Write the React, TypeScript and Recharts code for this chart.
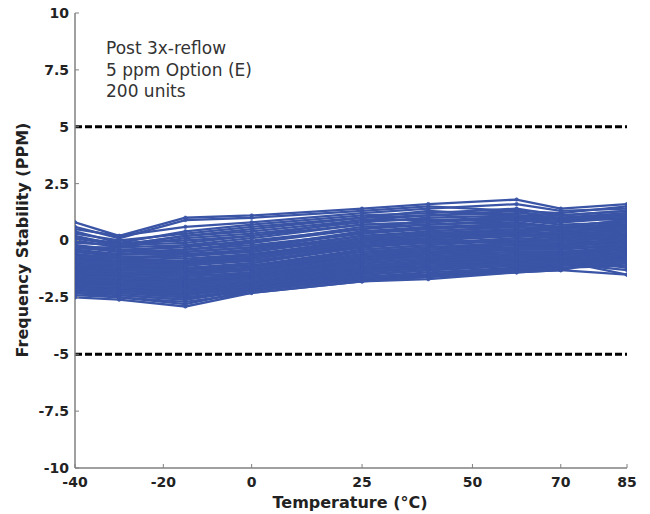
import React from "react";
import { LineChart, Line, XAxis, YAxis, ReferenceLine } from "recharts";

// Temperature sweep points (deg C) where each unit was measured
const temperatures = [-40, -30, -15, 0, 25, 40, 60, 70, 85];
const xTicks = [-40, -20, 0, 25, 50, 70, 85];
const yTicks = [-10, -7.5, -5, -2.5, 0, 2.5, 5, 7.5, 10];
const limitLines = [5, -5];
const noteLines = ["Post 3x-reflow", "5 ppm Option (E)", "200 units"];

// Frequency stability (PPM) per unit, one value per temperature point
const unitCurves: number[][] = [
    [0.8, 0.2, 1.0, 1.1, 1.4, 1.6, 1.8, 1.4, 1.6],
    [0.6, 0.1, 0.9, 1.0, 1.3, 1.5, 1.3, 1.2, 1.5],
    [0.5, 0.2, 0.6, 0.8, 1.2, 1.4, 1.6, 1.3, 1.4],
    [0.4, -0.1, 0.4, 0.7, 1.1, 1.2, 1.4, 1.1, 1.3],
    [0.3, 0.0, 0.3, 0.6, 1.0, 1.3, 1.1, 1.0, 1.2],
    [0.2, -0.2, 0.2, 0.4, 0.9, 1.1, 1.3, 0.9, 1.1],
    [0.1, -0.1, 0.0, 0.2, 0.9, 0.9, 1.0, 0.9, 1.1],
    [0.1, -0.2, 0.2, 0.5, 1.0, 1.1, 1.2, 1.1, 1.3],
    [0.0, -0.3, 0.1, 0.3, 0.8, 1.0, 1.1, 1.0, 0.9],
    [-0.1, -0.2, -0.1, 0.2, 0.7, 0.8, 1.0, 0.8, 1.0],
    [-0.2, -0.4, -0.3, 0.0, 0.5, 0.9, 0.9, 0.7, 0.8],
    [-0.2, -0.5, -0.4, -0.1, 0.5, 0.7, 0.9, 0.8, 1.1],
    [-0.3, -0.5, -0.2, -0.1, 0.6, 0.7, 0.8, 0.6, 0.9],
    [-0.3, -0.3, -0.2, 0.1, 0.7, 0.8, 1.1, 0.9, 1.2],
    [-0.35, -0.4, -0.5, -0.3, 0.4, 0.6, 0.7, 0.6, 0.7],
    [-0.4, -0.6, -0.4, -0.2, 0.3, 0.6, 0.6, 0.5, 0.8],
    [-0.45, -0.6, -0.5, -0.3, 0.3, 0.5, 0.8, 0.5, 0.6],
    [-0.5, -0.7, -0.7, -0.4, 0.2, 0.4, 0.6, 0.4, 0.5],
    [-0.5, -0.6, -0.6, -0.4, 0.4, 0.5, 0.7, 0.6, 0.9],
    [-0.6, -0.8, -0.6, -0.5, 0.2, 0.3, 0.5, 0.4, 0.6],
    [-0.6, -0.8, -0.9, -0.6, -0.1, 0.3, 0.5, 0.2, 0.5],
    [-0.65, -0.7, -0.8, -0.6, 0.0, 0.2, 0.4, 0.3, 0.4],
    [-0.7, -0.9, -0.9, -0.7, 0.1, 0.2, 0.3, 0.2, 0.3],
    [-0.7, -0.8, -0.7, -0.5, 0.1, 0.4, 0.6, 0.5, 0.7],
    [-0.8, -0.9, -1.0, -0.8, -0.1, 0.1, 0.3, 0.1, 0.2],
    [-0.8, -1.0, -1.0, -0.7, 0.0, 0.3, 0.4, 0.3, 0.7],
    [-0.85, -1.0, -1.1, -0.8, -0.2, 0.0, 0.2, 0.1, 0.3],
    [-0.9, -1.1, -1.0, -0.9, -0.3, -0.1, 0.1, 0.0, 0.1],
    [-0.9, -1.0, -0.9, -0.7, -0.1, 0.2, 0.4, 0.3, 0.6],
    [-1.0, -1.1, -1.2, -1.0, -0.2, -0.1, 0.0, 0.0, 0.2],
    [-1.0, -1.2, -1.1, -0.9, -0.3, 0.0, -0.1, 0.1, 0.3],
    [-1.0, -1.0, -1.1, -0.8, -0.2, 0.1, 0.3, 0.2, 0.5],
    [-1.05, -1.2, -1.3, -1.1, -0.4, -0.2, 0.0, -0.1, 0.0],
    [-1.1, -1.3, -1.2, -1.1, -0.5, -0.3, -0.1, -0.2, 0.1],
    [-1.1, -1.2, -1.3, -1.0, -0.3, 0.1, 0.2, 0.2, 0.4],
    [-1.15, -1.3, -1.4, -1.2, -0.5, -0.3, -0.2, -0.2, -0.1],
    [-1.2, -1.4, -1.4, -1.3, -0.6, -0.4, -0.2, -0.3, 0.0],
    [-1.2, -1.3, -1.3, -1.2, -0.4, -0.2, 0.1, 0.0, 0.3],
    [-1.25, -1.4, -1.5, -1.3, -0.7, -0.5, -0.3, -0.3, -0.2],
    [-1.3, -1.5, -1.6, -1.4, -0.7, -0.5, -0.4, -0.4, -0.2],
    [-1.3, -1.4, -1.5, -1.2, -0.6, -0.3, -0.1, -0.1, 0.2],
    [-1.35, -1.5, -1.5, -1.5, -0.8, -0.6, -0.4, -0.3, -0.3],
    [-1.4, -1.6, -1.7, -1.5, -0.9, -0.7, -0.5, -0.5, -0.3],
    [-1.4, -1.5, -1.6, -1.4, -0.7, -0.4, -0.3, -0.2, 0.0],
    [-1.45, -1.6, -1.7, -1.6, -0.9, -0.6, -0.5, -0.5, -0.4],
    [-1.5, -1.7, -1.8, -1.6, -1.0, -0.8, -0.6, -0.6, -0.4],
    [-1.5, -1.6, -1.7, -1.5, -0.8, -0.5, -0.4, -0.4, -0.1],
    [-1.55, -1.7, -1.9, -1.7, -1.0, -0.8, -0.7, -0.6, -0.5],
    [-1.6, -1.7, -1.9, -1.6, -0.9, -0.7, -0.6, -0.5, -0.3],
    [-1.6, -1.8, -1.8, -1.7, -1.1, -0.9, -0.7, -0.7, -0.5],
    [-1.6, -1.6, -1.8, -1.5, -0.8, -0.6, -0.3, -0.3, 0.1],
    [-1.65, -1.8, -2.0, -1.8, -1.2, -0.9, -0.8, -0.7, -0.6],
    [-1.7, -1.9, -2.0, -1.8, -1.2, -1.0, -0.8, -0.8, -0.6],
    [-1.7, -1.8, -1.9, -1.7, -1.0, -0.8, -0.6, -0.6, -0.3],
    [-1.75, -1.9, -2.1, -1.9, -1.3, -1.0, -0.9, -0.8, -0.7],
    [-1.8, -2.0, -2.1, -1.9, -1.3, -1.1, -0.9, -0.9, -0.7],
    [-1.8, -1.9, -2.0, -1.8, -1.1, -0.9, -0.8, -0.7, -0.5],
    [-1.85, -2.0, -2.2, -2.0, -1.4, -1.2, -1.0, -0.9, -0.8],
    [-1.9, -2.1, -2.2, -2.0, -1.4, -1.2, -1.0, -1.0, -0.8],
    [-1.9, -2.0, -2.1, -1.9, -1.2, -1.0, -0.9, -0.8, -0.6],
    [-1.95, -2.1, -2.3, -2.0, -1.5, -1.3, -1.1, -1.0, -0.9],
    [-2.0, -2.2, -2.3, -2.1, -1.5, -1.3, -1.1, -1.1, -0.9],
    [-2.0, -2.1, -2.4, -2.0, -1.4, -1.1, -1.0, -0.8, -1.2],
    [-2.0, -2.0, -2.2, -1.9, -1.2, -0.9, -0.7, -0.6, -0.2],
    [-2.05, -2.2, -2.4, -2.1, -1.6, -1.4, -1.2, -1.1, -1.0],
    [-2.1, -2.3, -2.5, -2.2, -1.6, -1.5, -1.2, -1.2, -1.0],
    [-2.1, -2.2, -2.3, -2.0, -1.3, -1.2, -1.0, -0.9, -0.7],
    [-2.2, -2.3, -2.5, -2.2, -1.7, -1.5, -1.3, -1.2, -1.1],
    [-2.2, -2.3, -2.4, -2.1, -1.5, -1.3, -1.1, -1.0, -0.8],
    [-2.2, -2.4, -2.6, -2.1, -1.6, -1.5, -1.2, -1.0, -1.3],
    [-2.3, -2.4, -2.6, -2.2, -1.7, -1.6, -1.3, -1.3, -0.6],
    [-2.3, -2.5, -2.8, -2.2, -1.7, -1.6, -1.3, -0.9, -1.5],
    [-2.4, -2.5, -2.7, -2.3, -1.8, -1.6, -1.4, -1.3, -0.8],
    [-2.5, -2.6, -2.9, -2.3, -1.8, -1.7, -1.4, -1.3, -1.5],
];

const LINE_COLOR = "#3a54a6";
const AXIS_COLOR = "#808080";
const FONT = "DejaVu Sans, sans-serif";

const data = temperatures.map((t, i) => {
    const row: Record<string, number> = { t };
    unitCurves.forEach((curve, k) => {
        row[`u${k}`] = curve[i];
    });
    return row;
});

const tickStyle = { fontFamily: FONT, fontWeight: 700, fontSize: 14, fill: "#222" };

export default function App() {
    return (
        <div style={{ position: "absolute", left: 0, top: 0, width: 650, height: 514, background: "#fff" }}>
            <LineChart
                width={650}
                height={514}
                data={data}
                margin={{ top: 13, right: 23, bottom: 0, left: 0 }}
            >
                <XAxis
                    dataKey="t"
                    type="number"
                    domain={[-40, 85]}
                    ticks={xTicks}
                    allowDataOverflow
                    height={46}
                    tickSize={-4}
                    tickMargin={13}
                    tick={tickStyle}
                    axisLine={{ stroke: AXIS_COLOR, strokeWidth: 1.5 }}
                    tickLine={{ stroke: AXIS_COLOR }}
                />
                <XAxis
                    xAxisId="top"
                    orientation="top"
                    type="number"
                    domain={[-40, 85]}
                    ticks={xTicks}
                    allowDataOverflow
                    height={0}
                    tickSize={-4}
                    tick={false}
                    axisLine={{ stroke: AXIS_COLOR, strokeWidth: 1.5 }}
                    tickLine={{ stroke: AXIS_COLOR }}
                />
                <YAxis
                    type="number"
                    domain={[-10, 10]}
                    ticks={yTicks}
                    allowDataOverflow
                    width={75}
                    tickSize={-4}
                    tickMargin={10}
                    tick={tickStyle}
                    axisLine={{ stroke: AXIS_COLOR, strokeWidth: 1.5 }}
                    tickLine={{ stroke: AXIS_COLOR }}
                />
                <YAxis
                    yAxisId="right"
                    orientation="right"
                    type="number"
                    domain={[-10, 10]}
                    ticks={yTicks}
                    allowDataOverflow
                    width={0}
                    tickSize={-4}
                    tick={false}
                    axisLine={{ stroke: AXIS_COLOR, strokeWidth: 1.5 }}
                    tickLine={{ stroke: AXIS_COLOR }}
                />
                {unitCurves.map((_, k) => (
                    <Line
                        key={k}
                        dataKey={`u${k}`}
                        stroke={LINE_COLOR}
                        strokeWidth={2.3}
                        dot={{ r: 1.8, fill: LINE_COLOR, stroke: LINE_COLOR, strokeWidth: 0.5 }}
                        activeDot={false}
                        isAnimationActive={false}
                    />
                ))}
                {limitLines.map((v) => (
                    <ReferenceLine
                        key={v}
                        y={v}
                        stroke="#000"
                        strokeWidth={3}
                        strokeDasharray="7 3"
                    />
                ))}
            </LineChart>
            <div
                style={{
                    position: "absolute",
                    left: 106,
                    top: 38,
                    fontFamily: FONT,
                    fontSize: 17,
                    lineHeight: "21.5px",
                    color: "#333",
                    whiteSpace: "nowrap",
                }}
            >
                {noteLines.map((s) => (
                    <div key={s}>{s}</div>
                ))}
            </div>
            <div
                style={{
                    position: "absolute",
                    left: 22,
                    top: 240,
                    transform: "translate(-50%, -50%) rotate(-90deg)",
                    fontFamily: FONT,
                    fontWeight: 700,
                    fontSize: 16,
                    color: "#222",
                    whiteSpace: "nowrap",
                }}
            >
                Frequency Stability (PPM)
            </div>
            <div
                style={{
                    position: "absolute",
                    left: 350,
                    top: 502,
                    transform: "translate(-50%, -50%)",
                    fontFamily: FONT,
                    fontWeight: 700,
                    fontSize: 16,
                    color: "#222",
                    whiteSpace: "nowrap",
                }}
            >
                Temperature (°C)
            </div>
        </div>
    );
}
